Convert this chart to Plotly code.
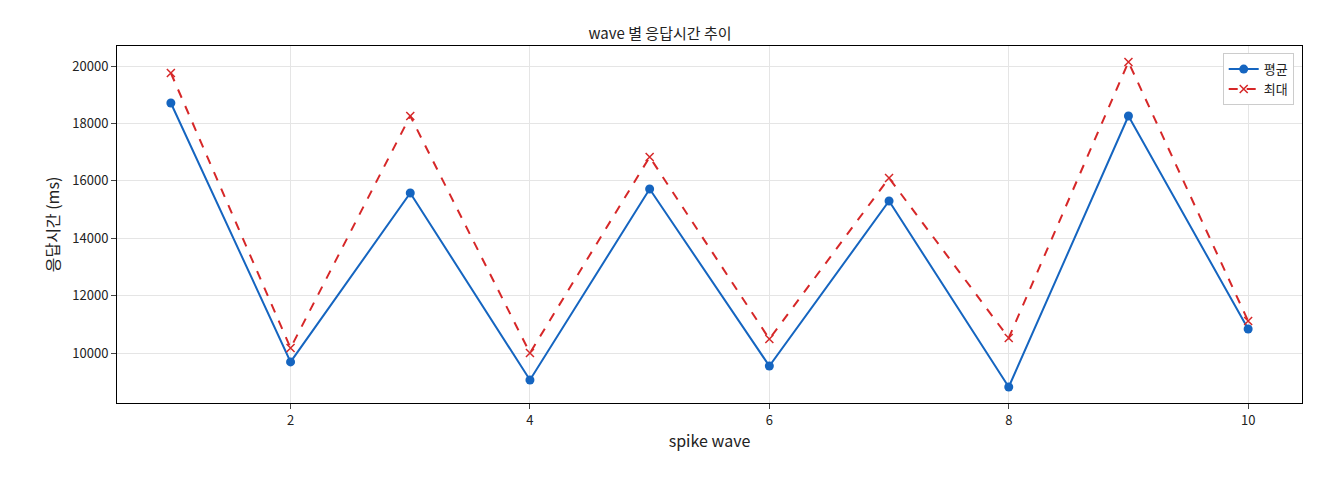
import plotly.graph_objects as go

waves = [1, 2, 3, 4, 5, 6, 7, 8, 9, 10]
avg_ms = [18710, 9690, 15575, 9060, 15714, 9547, 15296, 8815, 18258, 10836]
max_ms = [19756, 10174, 18258, 10000, 16829, 10488, 16098, 10523, 20139, 11115]
y_ticks = [10000, 12000, 14000, 16000, 18000, 20000]

fig = go.Figure()
fig.add_trace(go.Scatter(x=waves, y=avg_ms, name="평균", mode="lines+markers",
                         line=dict(color="#1565c0", width=2), marker=dict(size=9, color="#1565c0")))
fig.add_trace(go.Scatter(x=waves, y=max_ms, name="최대", mode="lines+markers",
                         line=dict(color="#d62728", width=2, dash="dash"),
                         marker=dict(size=8, symbol="x-thin", line=dict(width=1.5, color="#d62728"), color="#d62728")))
fig.update_layout(
    width=1304, height=464, plot_bgcolor="white", paper_bgcolor="white",
    font=dict(family="Noto Sans CJK KR, sans-serif", size=13, color="#222"),
    title=dict(text="wave 별 응답시간 추이", x=0.5, y=0.955, xanchor="center", font=dict(size=15)),
    margin=dict(l=109, r=10, t=38, b=69),
    xaxis=dict(title=dict(text="spike wave", standoff=8), range=[0.55, 10.45], tickvals=[2, 4, 6, 8, 10],
               showgrid=True, gridcolor="#e5e5e5", showline=True, mirror=True, linecolor="black",
               ticks="outside", ticklen=5, zeroline=False),
    yaxis=dict(title=dict(text="응답시간 (ms)", standoff=8), range=[8258, 20697],
               tickvals=y_ticks, ticktext=[str(v) for v in y_ticks],
               showgrid=True, gridcolor="#e5e5e5", showline=True, mirror=True, linecolor="black",
               ticks="outside", ticklen=5, zeroline=False),
    legend=dict(x=0.993, y=0.98, xanchor="right", yanchor="top", bordercolor="#ccc", borderwidth=1,
                bgcolor="white", font=dict(size=13)),
)
fig.write_html("out.html")
